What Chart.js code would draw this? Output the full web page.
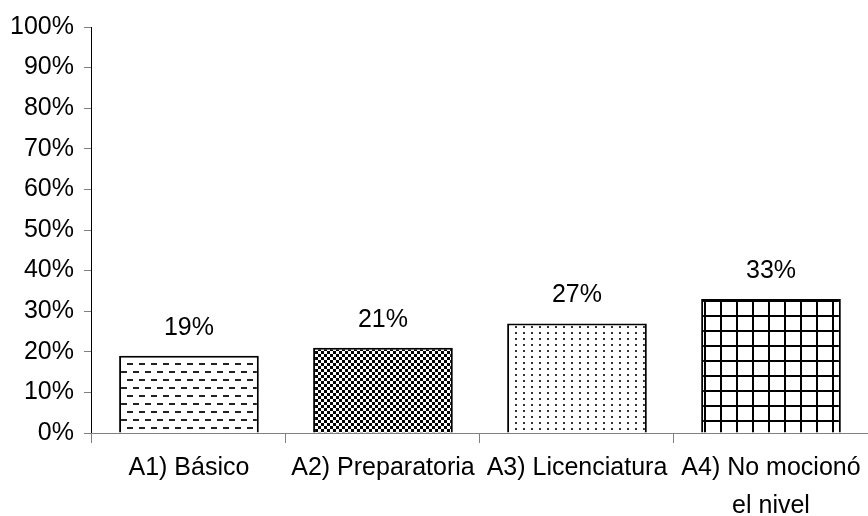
<!DOCTYPE html>
<html>
<head>
<meta charset="utf-8">
<script src="https://cdn.jsdelivr.net/npm/chart.js@4"></script>
<style>
    html, body { margin: 0; padding: 0; background: #fff; }
    #wrap { width: 868px; height: 516px; }
</style>
</head>
<body>
<div id="wrap"><canvas id="levelChart" width="868" height="516"></canvas></div>
<script>
// Chart data
const categories = ['A1) Básico', 'A2) Preparatoria', 'A3) Licenciatura', ['A4) No mocionó', 'el nivel']];
const percentages = [19, 21, 27, 33];
const yMax = 100;
const yStep = 10;

const FONT = '"Liberation Sans", Arial, sans-serif';

// Build a fill pattern from a small tile
function makePattern(w, h, drawTile) {
    const tile = document.createElement('canvas');
    tile.width = w;
    tile.height = h;
    const t = tile.getContext('2d');
    t.fillStyle = '#fff';
    t.fillRect(0, 0, w, h);
    drawTile(t);
    return document.getElementById('levelChart').getContext('2d').createPattern(tile, 'repeat');
}

// horizontal dashes, rows staggered
const dashPattern = makePattern(12, 16, t => {
    t.fillStyle = '#222';
    t.fillRect(1, 3, 6, 2);
    t.fillRect(7, 11, 6, 2);
    t.fillRect(0, 11, 1, 2);
});

// dense dots (dark checker)
const densePattern = makePattern(6, 6, t => {
    t.fillStyle = '#000';
    t.fillRect(0, 0, 3, 3);
    t.fillRect(3, 3, 3, 3);
});

// sparse dots (light)
const sparsePattern = makePattern(8, 6, t => {
    t.fillStyle = '#333';
    t.fillRect(3, 2, 2, 2);
});

// square grid
const gridPattern = makePattern(16, 15, t => {
    t.fillStyle = '#000';
    t.fillRect(0, 0, 2, 15);
    t.fillRect(0, 0, 16, 2);
});

// Draw value labels above bars
const valueLabels = {
    id: 'valueLabels',
    afterDatasetsDraw(chart) {
        const ctx = chart.ctx;
        const meta = chart.getDatasetMeta(0);
        ctx.save();
        ctx.font = '25px ' + FONT;
        ctx.fillStyle = '#000';
        ctx.textAlign = 'center';
        ctx.textBaseline = 'middle';
        meta.data.forEach((bar, i) => {
            ctx.fillText(percentages[i] + '%', bar.x, bar.y - 28);
        });
        ctx.restore();
    }
};

const ctx = document.getElementById('levelChart').getContext('2d');
new Chart(ctx, {
    type: 'bar',
    data: {
        labels: categories,
        datasets: [{
            data: percentages,
            backgroundColor: [dashPattern, densePattern, sparsePattern, gridPattern],
            borderColor: '#000',
            borderWidth: 2,
            barPercentage: 0.72,
            categoryPercentage: 1
        }]
    },
    options: {
        responsive: false,
        animation: false,
        layout: {
            padding: { left: 0, right: 0, top: 27, bottom: -15 }
        },
        plugins: {
            legend: { display: false },
            tooltip: { enabled: false }
        },
        scales: {
            y: {
                min: 0,
                max: yMax,
                ticks: {
                    stepSize: yStep,
                    padding: 10,
                    color: '#000',
                    font: { family: FONT, size: 25 },
                    callback: v => v + '%'
                },
                border: { color: '#000', width: 1 },
                grid: {
                    drawOnChartArea: false,
                    tickLength: 8,
                    color: '#808080'
                }
            },
            x: {
                ticks: {
                    padding: 6,
                    color: '#000',
                    font: { family: FONT, size: 25, lineHeight: 1.52 }
                },
                border: { color: '#808080', width: 1 },
                grid: {
                    drawOnChartArea: false,
                    tickLength: 10,
                    color: '#808080'
                }
            }
        }
    },
    plugins: [valueLabels]
});
</script>
</body>
</html>
